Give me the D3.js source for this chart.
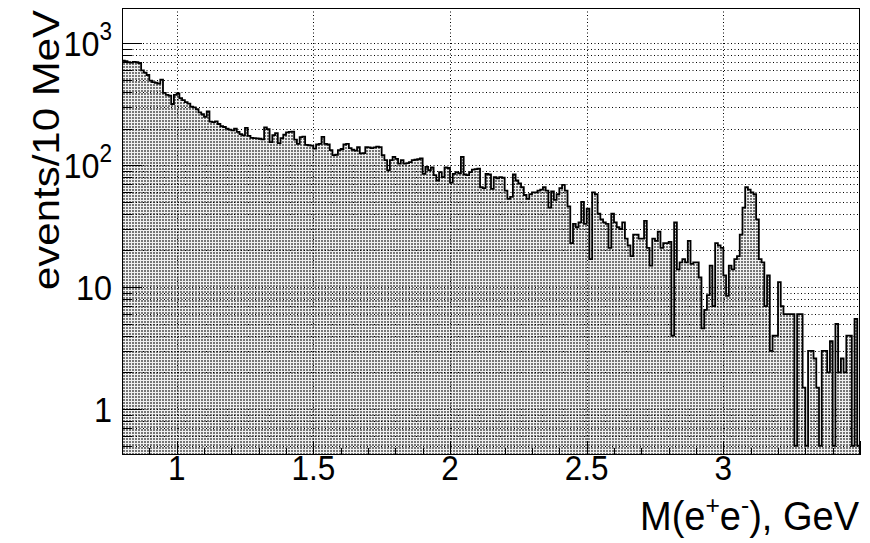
<!DOCTYPE html>
<html>
<head>
<meta charset="utf-8">
<script src="https://cdn.jsdelivr.net/npm/d3@7/dist/d3.min.js"></script>
<style>
  body { margin: 0; background: #fff; }
  text { font-family: "Liberation Sans", Arial, Helvetica, sans-serif; fill: #000; }
</style>
</head>
<body>
<svg id="chart" width="870" height="543"></svg>
<script>
// binning: 10 MeV bins starting at 0.8 GeV
const xMin = 0.8;
const binWidth = 0.01;

// events per bin (0 = empty bin)
const counts = [
  720, 715, 700, 695, 705, 700, 690, 600, 575, 550,
  495, 480, 475, 468, 505, 392, 378, 372, 318, 378,
  388, 355, 342, 330, 320, 302, 298, 288, 272, 262,
  250, 276, 228, 226, 229, 218, 209, 206, 200, 196,
  193, 200, 188, 180, 176, 203, 174, 168, 167, 166,
  165, 163, 204, 198, 155, 177, 183, 152, 167, 178,
  186, 188, 189, 162, 150, 170, 172, 147, 146, 145,
  137, 148, 150, 171, 150, 148, 133, 121, 122, 133,
  136, 148, 150, 138, 134, 132, 141, 125, 126, 141,
  140, 138, 140, 142, 141, 121, 110, 91, 110, 117,
  113, 103, 110, 103, 104, 106, 110, 111, 112, 114,
  85, 97, 91, 96, 83, 75, 88, 80, 96, 95,
  72, 85, 88, 86, 117, 84, 83, 88, 92, 93,
  94, 66, 65, 85, 84, 64, 80, 78, 80, 79,
  62, 53, 55, 84, 75, 71, 66, 57, 53, 58,
  60, 60, 62, 63, 66, 62, 45, 61, 52, 58,
  65, 69, 62, 46, 23, 33, 31, 34, 50, 33,
  44, 17, 60, 58, 40, 36, 34, 33, 21, 40,
  34, 31, 30, 34, 25, 22, 18, 27, 27, 25,
  25, 35, 21, 15, 25, 24, 28.5, 21, 23, 23,
  23.5, 4, 34, 14, 16, 17, 16, 24, 15.5, 16,
  16, 12, 4.6, 6.5, 8.6, 15, 7, 23, 22, 21,
  12.5, 8.5, 15, 14, 17, 18, 27, 45, 66, 63,
  60, 58, 36, 17, 16, 7, 12.5, 3, 4, 4,
  11, 7, 6, 6, 6, 6, 0, 6, 6, 1.5,
  0, 3, 3, 2.6, 1.5, 0, 3, 3, 2, 3.6,
  0, 5, 2, 2.6, 2, 4, 4, 0, 5.5, 0
];

const xDomain = [0.8, 3.5];
const yDomain = [0.42, 1950];
const xTickLabels = [1, 1.5, 2, 2.5, 3];
const yTickLabels = [1, 10, 100, 1000];
const emptyLevel = 0.5; // where ROOT draws empty bins on a log axis

const W = 870, H = 543;
const margin = { top: 8, right: 10, bottom: 88, left: 122 };
const squash = 0.9; // text in the picture is a bit narrow

const svg = d3.select("#chart");

const x = d3.scaleLinear().domain(xDomain).range([margin.left, W - margin.right]);
const y = d3.scaleLog().domain(yDomain).range([H - margin.bottom, margin.top]);
const [x0, x1] = x.range();
const [yb, yt] = y.range();

// pattern fill like ROOT's dotted hatch
const defs = svg.append("defs");
const pat = defs.append("pattern")
  .attr("id", "dots")
  .attr("patternUnits", "userSpaceOnUse")
  .attr("width", 3).attr("height", 3);
pat.append("rect").attr("width", 3).attr("height", 3).attr("fill", "#f0f0f0");
pat.append("rect").attr("width", 2).attr("height", 2).attr("fill", "#767676");

defs.append("clipPath").attr("id", "frame")
  .append("rect").attr("x", x0).attr("y", yt).attr("width", x1 - x0).attr("height", yb - yt);

// step data: left edge of each bin, plus closing edge
const steps = counts.map((c, i) => ({ edge: xMin + i * binWidth, c }));
steps.push({ edge: xMin + counts.length * binWidth, c: counts[counts.length - 1] });

const level = d => y(Math.max(d.c, emptyLevel));

const plot = svg.append("g").attr("clip-path", "url(#frame)");

plot.append("path")
  .datum(steps)
  .attr("fill", "url(#dots)")
  .attr("d", d3.area()
    .x(d => x(d.edge))
    .y0(yb)
    .y1(level)
    .curve(d3.curveStepAfter));

plot.append("path")
  .datum(steps)
  .attr("fill", "none")
  .attr("stroke", "#000")
  .attr("stroke-width", 1.8)
  .attr("d", d3.line()
    .x(d => x(d.edge))
    .y(level)
    .curve(d3.curveStepAfter));

// grid: every minor log step on y, labelled ticks on x
const yMinor = [];
[0.1, 1, 10, 100, 1000].forEach(dec => {
  for (let k = 1; k <= 9; k++) {
    const v = k * dec;
    if (v >= yDomain[0] && v <= yDomain[1]) yMinor.push({ v, major: k === 1 });
  }
});

const grid = svg.append("g")
  .attr("stroke", "#000")
  .attr("stroke-width", 1)
  .attr("stroke-dasharray", "1 2.5");

grid.selectAll("line.gy")
  .data(yMinor)
  .enter().append("line")
  .attr("class", "gy")
  .attr("x1", x0).attr("x2", x1)
  .attr("y1", d => Math.round(y(d.v)) + 0.5)
  .attr("y2", d => Math.round(y(d.v)) + 0.5);

grid.selectAll("line.gx")
  .data(xTickLabels)
  .enter().append("line")
  .attr("class", "gx")
  .attr("x1", d => Math.round(x(d)) + 0.5)
  .attr("x2", d => Math.round(x(d)) + 0.5)
  .attr("y1", yt).attr("y2", yb);

// y ticks on the left edge
const ticks = svg.append("g").attr("stroke", "#000").attr("stroke-width", 1);
ticks.selectAll("line.ty")
  .data(yMinor)
  .enter().append("line")
  .attr("x1", x0)
  .attr("x2", d => x0 + (d.major ? 20 : 10))
  .attr("y1", d => Math.round(y(d.v)) + 0.5)
  .attr("y2", d => Math.round(y(d.v)) + 0.5);

// x ticks on the bottom edge, every 0.1 GeV
const xMinor = d3.range(8, 36).map(k => k / 10);
ticks.selectAll("line.tx")
  .data(xMinor)
  .enter().append("line")
  .attr("x1", d => Math.round(x(d)) + 0.5)
  .attr("x2", d => Math.round(x(d)) + 0.5)
  .attr("y1", yb)
  .attr("y2", d => yb - (Math.abs(d * 2 - Math.round(d * 2)) < 1e-6 ? 14 : 7));

// frame
svg.append("rect")
  .attr("x", x0 + 0.5).attr("y", yt + 0.5)
  .attr("width", x1 - x0 - 1).attr("height", yb - yt - 1)
  .attr("fill", "none").attr("stroke", "#000").attr("stroke-width", 1);

// x labels
svg.append("g").selectAll("text")
  .data(xTickLabels)
  .enter().append("text")
  .attr("transform", d => `translate(${x(d)},${yb + 25}) scale(${squash},1)`)
  .attr("text-anchor", "middle")
  .style("font-size", "35px")
  .text(d => d);

// y labels (powers of ten)
const yl = svg.append("g").selectAll("text")
  .data(yTickLabels)
  .enter().append("text")
  .attr("transform", d => `translate(${x0 - 10},${y(d) + 13}) scale(${squash},1)`)
  .attr("text-anchor", "end")
  .style("font-size", "36px");
yl.each(function (d) {
  const t = d3.select(this);
  const e = Math.round(Math.log10(d));
  if (e <= 1) { t.text(d); return; }
  t.append("tspan").text("10");
  t.append("tspan").attr("dy", -16).style("font-size", "25px").text(e);
});

// axis titles
const sup = 16;
const xt = svg.append("text")
  .attr("transform", `translate(${x1 - 1},${H - 13}) scale(0.95,1)`)
  .attr("text-anchor", "end")
  .style("font-size", "40px");
xt.append("tspan").text("M(e");
xt.append("tspan").attr("dy", -sup).style("font-size", "26px").text("+");
xt.append("tspan").attr("dy", sup).text("e");
xt.append("tspan").attr("dy", -sup).style("font-size", "26px").text("-");
xt.append("tspan").attr("dy", sup).text("), GeV");

svg.append("text")
  .attr("transform", `translate(59,${yt + 2}) rotate(-90) scale(1,${squash})`)
  .attr("text-anchor", "end")
  .style("font-size", "42px")
  .text("events/10 MeV");
</script>
</body>
</html>
